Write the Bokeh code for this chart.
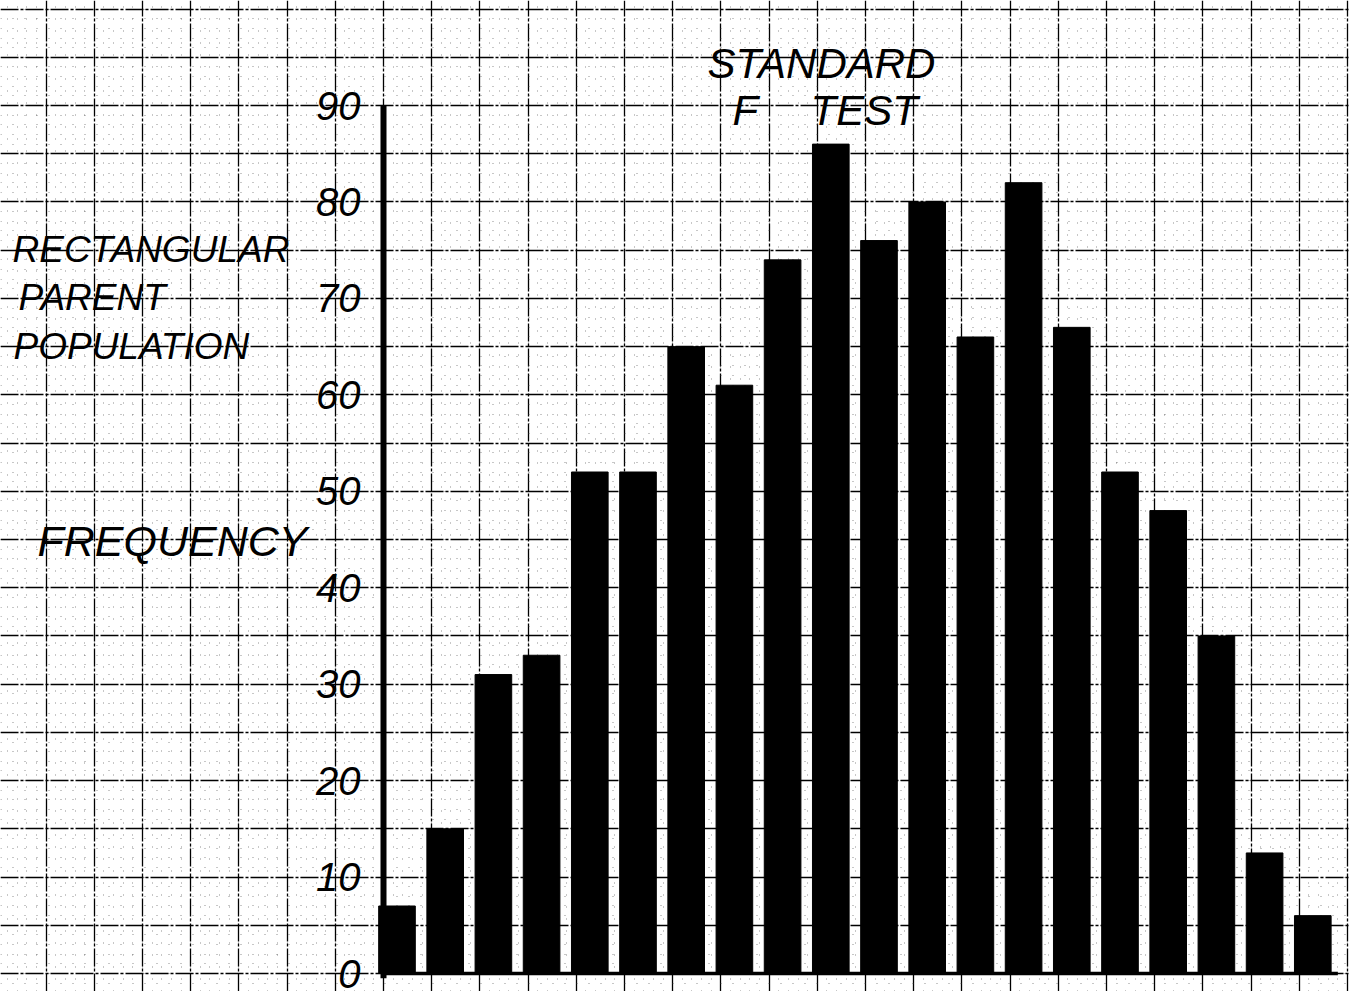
from bokeh.plotting import figure
from bokeh.models import SingleIntervalTicker, Range1d, ColumnDataSource
from bokeh.core.properties import value
from bokeh.embed import file_html
from bokeh.resources import INLINE

# ---------------- data ----------------
class_index = list(range(1, 21))
frequencies = [7, 15, 31, 33, 52, 52, 65, 61, 74, 86, 76, 80, 66, 82, 67, 52, 48, 35, 12.5, 6]
tick_values = [0, 10, 20, 30, 40, 50, 60, 70, 80, 90]
tick_labels = ["0", "10", "20", "30", "40", "50", "60", "70", "80", "90"]
title_words = ["STANDARD", "F", "TEST"]
side_words = ["RECTANGULAR", "PARENT", "POPULATION"]
y_title = "FREQUENCY"

# ---------------- layout ----------------
W, H = 1349, 991
PX_X = 48.2      # pixels per class
PX_Y = 9.644     # pixels per frequency unit
AXIS_PAGE_X = 383
ZERO_PAGE_Y = 973
PAGE_OFF = 0

x0 = (PAGE_OFF - AXIS_PAGE_X) / PX_X
x1 = x0 + W / PX_X
y0 = (ZERO_PAGE_Y - (PAGE_OFF + H)) / PX_Y
y1 = y0 + H / PX_Y


def px_x(px):
    return (px - AXIS_PAGE_X) / PX_X


def px_y(py):
    return (ZERO_PAGE_Y - py) / PX_Y


p = figure(width=W, height=H, output_backend="svg", toolbar_location=None,
           x_range=Range1d(x0, x1), y_range=Range1d(y0, y1),
           x_axis_location=None, y_axis_location=None, min_border=0,
           outline_line_color=None, background_fill_color="white",
           border_fill_color="white")

# graph-paper grid
p.xgrid.ticker = SingleIntervalTicker(interval=1, num_minor_ticks=5)
p.ygrid.ticker = SingleIntervalTicker(interval=5, num_minor_ticks=5)
for g in (p.xgrid, p.ygrid):
    g.grid_line_color = "black"
    g.grid_line_width = 1.3
    g.grid_line_dash = "18 2 3 2"
    g.minor_grid_line_color = "#444444"
    g.minor_grid_line_alpha = 0.6
    g.minor_grid_line_width = 1
    g.minor_grid_line_dash = "1 11"

# bars
BAR_OFFSET = 0.28
src = ColumnDataSource(dict(x=[i - 1 + BAR_OFFSET for i in class_index], top=frequencies))
p.vbar(x="x", top="top", bottom=0, width=0.76, source=src,
       fill_color="black", line_color="black")

# axis lines (vertical y axis and baseline)
p.segment(x0=[0], y0=[-0.5], x1=[0], y1=[max(tick_values)], line_color="black", line_width=6)
p.segment(x0=[0], y0=[0], x1=[len(class_index) - 0.2], y1=[0], line_color="black", line_width=3.5)

FONT = value("Liberation Sans")

# tick labels
p.text(x=[px_x(360)] * len(tick_values), y=tick_values, text=tick_labels,
       text_font=FONT, text_font_style="italic", text_font_size="40px",
       text_align="right", text_baseline="alphabetic", text_color="black")

# title
p.text(x=[px_x(707), px_x(732), px_x(810)], y=[px_y(63), px_y(110), px_y(110)],
       text=title_words, text_font=FONT, text_font_style="italic",
       text_font_size="42px", text_align="left", text_baseline="alphabetic",
       text_color="black")

# side label
p.text(x=[px_x(12), px_x(18), px_x(13)], y=[px_y(249), px_y(297), px_y(346)],
       text=side_words, text_font=FONT, text_font_style="italic",
       text_font_size="37px", text_align="left", text_baseline="alphabetic",
       text_color="black")

p.text(x=[px_x(37)], y=[px_y(540)], text=[y_title], text_font=FONT,
       text_font_style="italic", text_font_size="43px", text_align="left",
       text_baseline="alphabetic", text_color="black")

open("out.html", "w").write(file_html(p, INLINE))
